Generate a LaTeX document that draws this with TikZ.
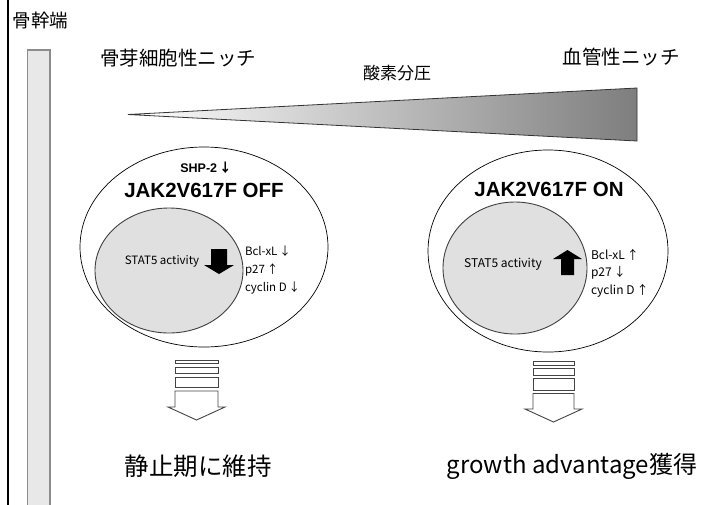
\documentclass[tikz,border=0pt]{standalone}
\usepackage{fontspec}
\setmainfont{Noto Sans CJK JP}
\newfontfamily\jp{Noto Sans CJK JP}
\newfontfamily\arb{Liberation Sans}
\definecolor{barfill}{HTML}{E8E8E8}
\definecolor{bargray}{HTML}{8C8C8C}
\definecolor{cellgray}{HTML}{E0E0E0}
\definecolor{wedgedark}{HTML}{7E7E7E}
\definecolor{outline}{HTML}{444444}
\tikzset{
  lbl/.style={inner sep=0pt, outer sep=0pt, font=\jp},
  outerell/.style={draw=black, line width=0.7pt},
  innerell/.style={draw=black!75, fill=cellgray, line width=0.9pt},
  hollow/.style={draw=outline, fill=white, line width=0.9pt},
  blockarrow/.style={fill=black},
}
\begin{document}
\begin{tikzpicture}[x=1pt,y=-1pt]
\useasboundingbox (0,0) rectangle (719,504);
\clip (0,0) rectangle (719,504);
\fill[white] (0,0) rectangle (719,504);
% left frame line
\draw[line width=2pt] (8,-2) -- (8,510);
% gray bar
\draw[fill=barfill, draw=bargray, line width=1.5pt] (27.5,50) rectangle (50,515);
\node[lbl, font=\jp\fontsize{18.5}{19}\selectfont] (metaphysis) at (40.5,20) {骨幹端};
% niche titles
\node[lbl, font=\jp\fontsize{19.5}{20}\selectfont] (osteo) at (178,58) {骨芽細胞性ニッチ};
\node[lbl, font=\jp\fontsize{19.5}{20}\selectfont] (vasc) at (621,57) {血管性ニッチ};
\node[lbl, font=\jp\fontsize{17}{17}\selectfont] (oxy) at (397,73) {酸素分圧};
% wedge
\shade[left color=white, right color=wedgedark] (128,114.5) -- (637,88) -- (637,141) -- cycle;
\draw[line width=0.8pt, draw=black!80] (128,114.5) -- (637,88) -- (637,141) -- cycle;
% left cell
\draw[outerell] (204,247) ellipse [x radius=124, y radius=100];
\draw[innerell] (169,270.5) ellipse [x radius=74, y radius=62.5];
\node[lbl, font=\arb\bfseries\fontsize{12.5}{13}\selectfont] (shp) at (206,168) {SHP-2\,{\jp ↓}};
\node[lbl, font=\arb\bfseries\fontsize{20.5}{21}\selectfont] (off) at (204,190) {JAK2V617F OFF};
\node[lbl, font=\jp\fontsize{11.5}{12}\selectfont] (statL) at (162,261) {STAT5 activity};
\fill[blockarrow] (211,249) -- (227,249) -- (227,265) -- (234,265) -- (219,274) -- (204,265) -- (211,265) -- cycle;
\node[lbl, anchor=west, font=\jp\fontsize{11.5}{12}\selectfont] (bclL) at (245,251) {Bcl-xL\,↓};
\node[lbl, anchor=west, font=\jp\fontsize{11.5}{12}\selectfont] (p27L) at (245,270) {p27\,↑};
\node[lbl, anchor=west, font=\jp\fontsize{11.5}{12}\selectfont] (cycL) at (245,288) {cyclin D\,↓};
% right cell
\draw[outerell] (548,251) ellipse [x radius=120, y radius=101];
\draw[innerell] (515,268) ellipse [x radius=72, y radius=66];
\node[lbl, font=\arb\bfseries\fontsize{20.5}{21}\selectfont] (on) at (549,189) {JAK2V617F ON};
\node[lbl, font=\jp\fontsize{12}{12}\selectfont] (statR) at (503,264) {STAT5 activity};
\fill[blockarrow] (567.5,250) -- (582,259) -- (574,259) -- (574,275) -- (561,275) -- (561,259) -- (553,259) -- cycle;
\node[lbl, anchor=west, font=\jp\fontsize{12}{12}\selectfont] (bclR) at (591,255) {Bcl-xL\,↑};
\node[lbl, anchor=west, font=\jp\fontsize{12}{12}\selectfont] (p27R) at (591,273) {p27\,↓};
\node[lbl, anchor=west, font=\jp\fontsize{12}{12}\selectfont] (cycR) at (591,291) {cyclin D\,↑};
% left hollow arrow
\draw[hollow] (175,360) rectangle (218,363.5);
\draw[hollow] (175,367) rectangle (218,373.5);
\draw[hollow] (175,377) rectangle (218,387.5);
\draw[hollow] (175,391) -- (175,407) -- (168,407) -- (196.5,420) -- (225,407) -- (218,407) -- (218,391) -- cycle;
% right hollow arrow
\draw[hollow] (533,361.5) rectangle (574,365);
\draw[hollow] (533,368.5) rectangle (574,375);
\draw[hollow] (533,378.5) rectangle (574,390);
\draw[hollow] (533,393.5) -- (533,409) -- (525,409) -- (553.5,422) -- (582,409) -- (574,409) -- (574,393.5) -- cycle;
% results
\node[lbl, font=\jp\fontsize{24.5}{25}\selectfont] (quiesc) at (198,466) {静止期に維持};
\node[lbl, font=\jp\fontsize{24}{25}\selectfont] (growth) at (572,466) {growth advantage獲得};
\end{tikzpicture}
\end{document}
